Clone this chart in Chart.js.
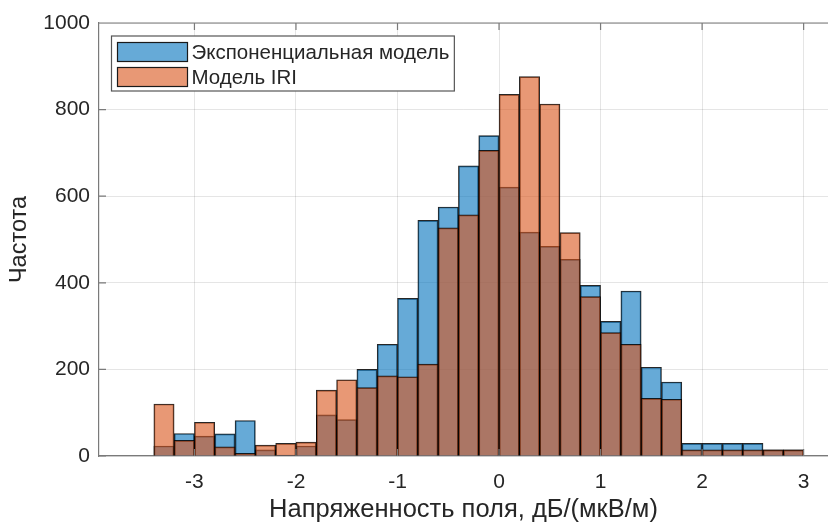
<!DOCTYPE html>
<html>
<head>
<meta charset="utf-8">
<script src="https://cdn.jsdelivr.net/npm/chart.js@4"></script>
<style>
  html, body { margin: 0; padding: 0; background: #fff; }
  #wrap { width: 828px; height: 523px; }
</style>
</head>
<body>
<div id="wrap"><canvas id="histChart"></canvas></div>
<script>
/* ================= DATA ================= */
// bin centres, bin width 0.2
const binCenters = [-3.3, -3.1, -2.9, -2.7, -2.5, -2.3, -2.1, -1.9, -1.7, -1.5,
  -1.3, -1.1, -0.9, -0.7, -0.5, -0.3, -0.1, 0.1, 0.3, 0.5,
  0.7, 0.9, 1.1, 1.3, 1.5, 1.7, 1.9, 2.1, 2.3, 2.5, 2.7, 2.9];

const expCounts = [23, 52, 46, 51, 82, 14, 2, 23, 95, 84,
  200, 258, 364, 544, 575, 670, 740, 621, 517, 484,
  454, 394, 311, 381, 205, 171, 29, 29, 29, 29, 14, 14];

const iriCounts = [120, 36, 78, 21, 6, 25, 29, 32, 152, 176,
  158, 185, 183, 212, 527, 557, 706, 835, 876, 813,
  516, 368, 285, 258, 133, 131, 14, 14, 14, 14, 14, 14];

const xTickValues = [-3, -2, -1, 0, 1, 2, 3];
const yTickValues = [0, 200, 400, 600, 800, 1000];

const seriesLabels = ["Экспоненциальная модель", "Модель IRI"];
const xTitle = "Напряженность поля, дБ/(мкВ/м)";
const yTitle = "Частота";

const FONT = "'Liberation Sans', Arial, Helvetica, sans-serif";
const AXIS_COLOR = "#7a7a7a";

/* ================= FRAME + LEGEND (matlab look) ================= */
const matlabFrame = {
  id: "matlabFrame",
  afterDraw(chart) {
    const { ctx, chartArea: a, scales: { x, y } } = chart;
    ctx.save();

    // top box line and inner ticks
    ctx.strokeStyle = AXIS_COLOR;
    ctx.lineWidth = 1.2;
    ctx.beginPath();
    ctx.moveTo(a.left, a.top);
    ctx.lineTo(a.right, a.top);
    x.ticks.forEach(t => {
      const px = x.getPixelForValue(t.value);
      ctx.moveTo(px, a.bottom);
      ctx.lineTo(px, a.bottom - 7);
      ctx.moveTo(px, a.top);
      ctx.lineTo(px, a.top + 7);
    });
    y.ticks.forEach(t => {
      const py = y.getPixelForValue(t.value);
      ctx.moveTo(a.left, py);
      ctx.lineTo(a.left + 7, py);
    });
    ctx.stroke();

    // legend box
    const bx = a.left + 12.5, by = a.top + 13;
    const sw = 70, sh = 19;
    ctx.font = "20.5px " + FONT;
    let textW = 0;
    chart.data.datasets.forEach(ds => {
      textW = Math.max(textW, ctx.measureText(ds.label).width);
    });
    const bw = 6 + sw + 4 + textW + 5;
    const bh = 55;
    ctx.fillStyle = "#fff";
    ctx.fillRect(bx, by, bw, bh);
    ctx.strokeStyle = "#555";
    ctx.lineWidth = 1.2;
    ctx.strokeRect(bx, by, bw, bh);

    chart.data.datasets.forEach((ds, i) => {
      const sy = by + 6.5 + i * 25;
      ctx.fillStyle = ds.backgroundColor;
      ctx.fillRect(bx + 6, sy, sw, sh);
      ctx.strokeStyle = "#1a1a1a";
      ctx.lineWidth = 1.2;
      ctx.strokeRect(bx + 6, sy, sw, sh);
      ctx.fillStyle = "#262626";
      ctx.textBaseline = "middle";
      ctx.textAlign = "left";
      ctx.fillText(ds.label, bx + 6 + sw + 4, sy + sh / 2 + 1);
    });

    ctx.restore();
  }
};

/* ================= CHART ================= */
function buildChart() {
  const ctx = document.getElementById("histChart").getContext("2d");

  new Chart(ctx, {
    type: "bar",
    data: {
      datasets: [{
        label: seriesLabels[0],
        data: binCenters.map((c, i) => ({ x: c, y: expCounts[i] })),
        backgroundColor: "rgba(0, 114, 189, 0.6)",
        borderColor: "rgba(0, 0, 0, 0.85)",
        borderWidth: 1,
        order: 2
      }, {
        label: seriesLabels[1],
        data: binCenters.map((c, i) => ({ x: c, y: iriCounts[i] })),
        backgroundColor: "rgba(217, 83, 25, 0.6)",
        borderColor: "rgba(0, 0, 0, 0.85)",
        borderWidth: 1,
        order: 1
      }]
    },
    options: {
      responsive: true,
      maintainAspectRatio: false,
      animation: false,
      grouped: false,
      barPercentage: 1,
      categoryPercentage: 1,
      layout: { padding: { top: 23, right: 0, bottom: 0, left: 0 } },
      plugins: {
        legend: { display: false },
        tooltip: { enabled: false }
      },
      scales: {
        x: {
          type: "linear",
          offset: false,
          min: -3.94,
          max: 3.24,
          afterBuildTicks: s => { s.ticks = xTickValues.map(v => ({ value: v })); },
          afterFit: s => { s.height = 67; },
          grid: { color: "rgba(0, 0, 0, 0.1)", drawTicks: false, offset: false },
          border: { color: AXIS_COLOR, width: 1.2 },
          ticks: {
            color: "#262626", font: { family: FONT, size: 21 }, padding: 14, maxRotation: 0,
            callback: v => String(v)
          },
          title: {
            display: true, text: xTitle, color: "#262626",
            font: { family: FONT, size: 25.5, lineHeight: 1.0 }, padding: { top: 2, bottom: 0 }
          }
        },
        y: {
          min: 0,
          max: 1000,
          afterBuildTicks: s => { s.ticks = yTickValues.map(v => ({ value: v })); },
          afterFit: s => { s.width = 99; },
          grid: { color: "rgba(0, 0, 0, 0.1)", drawTicks: false },
          border: { color: AXIS_COLOR, width: 1.2 },
          ticks: {
            color: "#262626", font: { family: FONT, size: 21 }, padding: 9,
            callback: v => String(v)
          },
          title: {
            display: true, text: yTitle, color: "#262626",
            font: { family: FONT, size: 23.5 }, padding: { top: 5, bottom: 0 }
          }
        }
      }
    },
    plugins: [matlabFrame]
  });
}

document.addEventListener("DOMContentLoaded", buildChart);
</script>
</body>
</html>
